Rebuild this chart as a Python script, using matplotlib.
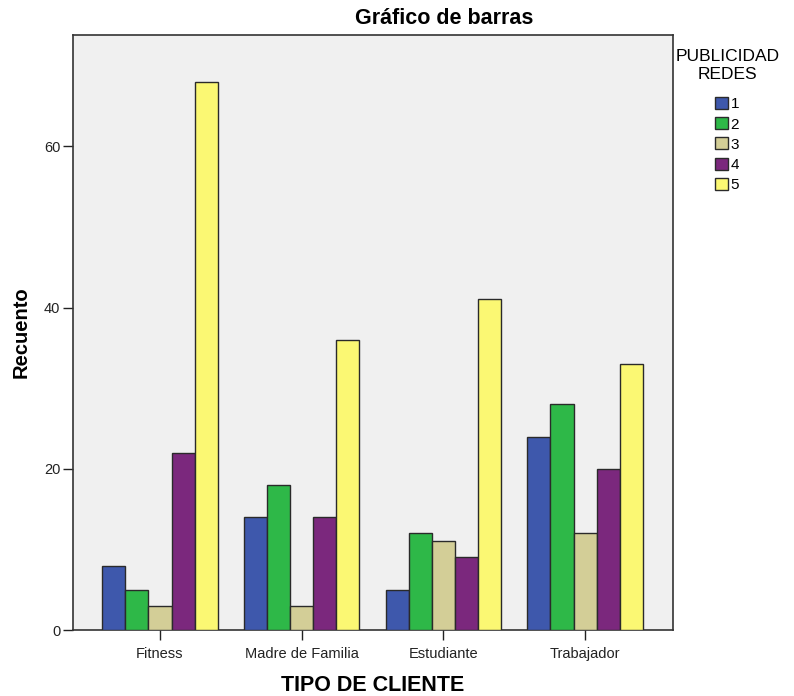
import numpy as np
import matplotlib
matplotlib.use('Agg')
import matplotlib.pyplot as plt

plt.rcParams['font.family'] = ['Liberation Sans', 'DejaVu Sans']

categories = ['Fitness', 'Madre de Familia', 'Estudiante', 'Trabajador']
series_labels = ['1', '2', '3', '4', '5']
counts = {
    '1': [8, 14, 5, 24],
    '2': [5, 18, 12, 28],
    '3': [3, 3, 11, 12],
    '4': [22, 14, 9, 20],
    '5': [68, 36, 41, 33],
}
colors = ['#3e58ac', '#2eb848', '#d3ce97', '#7b287d', '#fbf873']

fig = plt.figure(figsize=(7.94, 6.96), dpi=100)
ax = fig.add_axes([0.0919, 0.0948, 0.7557, 0.8549])
ax.set_facecolor('#f0f0f0')

x = np.arange(len(categories))
w = 0.163
for i, lab in enumerate(series_labels):
    ax.bar(x + (i - 2) * w, counts[lab], width=w, color=colors[i],
           edgecolor='#2a2a2a', linewidth=1.0, label=lab, zorder=3)

ax.set_xlim(-0.614, 3.62)
ax.set_ylim(0, 73.8)
ax.set_xticks(x)
ax.set_xticklabels(categories, fontsize=10.5, color='#222222')
ax.set_yticks([0, 20, 40, 60])
ax.tick_params(axis='y', labelsize=10.5, length=7, width=1, colors='#222222', pad=2)
ax.tick_params(axis='x', length=7, width=1, colors='#222222', pad=5)
for s in ax.spines.values():
    s.set_color('#333333')
    s.set_linewidth(1.2)

fig.text(0.559, 0.974, 'Gráfico de barras', fontsize=15.5, fontweight='bold',
         ha='center', va='center')
ax.set_ylabel('Recuento', fontsize=14.5, fontweight='bold', labelpad=10)
ax.set_xlabel('TIPO DE CLIENTE', fontsize=15.5, fontweight='bold', labelpad=10)

leg = fig.legend(loc='upper center', bbox_to_anchor=(0.916, 0.938), frameon=False,
                 title='PUBLICIDAD\nREDES', fontsize=11, title_fontsize=12.5,
                 handlelength=0.85, handleheight=0.85, handletextpad=0.15,
                 labelspacing=0.38, borderaxespad=0)
leg.get_title().set_multialignment('center')
leg.get_title().set_linespacing(1.2)
leg._legend_box.align = 'center'
leg._legend_box.sep = 11

fig.savefig('out.png', dpi=100)
